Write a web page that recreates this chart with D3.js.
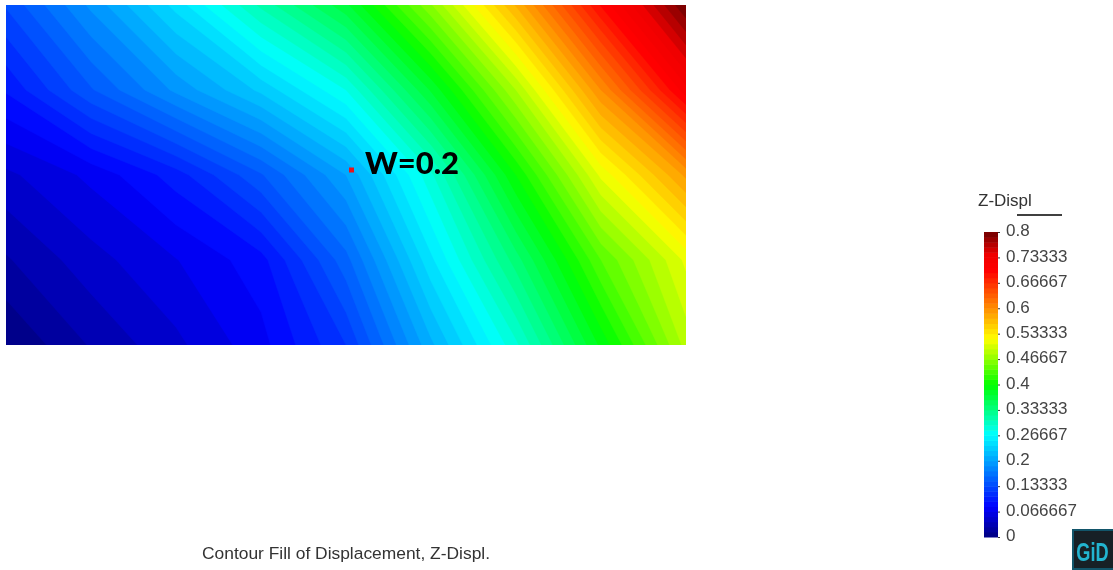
<!DOCTYPE html>
<html><head><meta charset="utf-8">
<script src="https://cdn.jsdelivr.net/npm/d3@7/dist/d3.min.js"></script>
<style>html,body{margin:0;padding:0;background:#fff}svg{display:block;filter:blur(0.5px)}</style>
</head><body><div id="c"></div>
<script>
// Node positions along the plate (fraction of width / height)
const colPos = [0,1,2,3,4,5,6,7,8];
const rowPos = [0,1,2,3,4];
// Z-displacement read at nodes, rows from top to bottom
const row0 = [.135,.19,.245,.31,.37,.465,.575,.695,.80];
const row1 = [.095,.145,.19,.23,.28,.375,.48,.60,.715];
const row2 = [.05,.07,.10,.145,.20,.29,.40,.51,.59];
const row3 = [.025,.048,.066,.088,.155,.25,.34,.44,.51];
const row4 = [0,.028,.05,.075,.12,.21,.29,.39,.485];
const legendTicks = [0,.066667,.13333,.2,.26667,.33333,.4,.46667,.53333,.6,.66667,.73333,.8];
const colorValues = [0,.08,.27,.40,.52,.70,.74,.8];
const colorStops = ["#00007f","#0000ff","#00ffff","#00ff00","#ffff00","#ff0000","#f00000","#6f0000"];
const bandCount = 60;
const titleText = "Contour Fill of Displacement, Z-Displ.";
const legendTitle = "Z-Displ";
const noteText = "W=0.2";
const markerNode = {col:4,row:2};

const W=1113,H=570;
const svg=d3.select("#c").append("svg").attr("width",W).attr("height",H);
const color=d3.scaleLinear().domain(colorValues).range(colorStops);
const x=d3.scaleLinear().domain([0,8]).range([6,686]);
const y=d3.scaleLinear().domain([0,4]).range([5,345]);

const rows=[row0,row1,row2,row3,row4];
const grid=rows.flat();
const step=.8/bandCount;
const thresholds=d3.range(bandCount).map(i=>i*step);
const contours=d3.contours().size([colPos.length,rowPos.length]).smooth(true).thresholds(thresholds)(grid);
// d3.contours places node i at i+0.5
const proj=d3.geoTransform({point(px,py){this.stream.point(x(px-.5),y(py-.5));}});
const path=d3.geoPath(proj);
svg.append("clipPath").attr("id","plate").append("rect")
  .attr("x",x(0)).attr("y",y(0)).attr("width",x(8)-x(0)).attr("height",y(4)-y(0));
svg.append("g").attr("clip-path","url(#plate)").selectAll("path").data(contours).join("path")
  .attr("d",path).attr("fill",d=>color(d.value+step/2)).attr("stroke",d=>color(d.value+step/2)).attr("stroke-width",.4);

// marker and note
svg.append("rect").attr("x",x(markerNode.col)+3).attr("y",y(markerNode.row)-7.5).attr("width",5).attr("height",5).attr("fill","#e8141c");
svg.append("text").attr("x",365).attr("y",174).attr("font-family","Lato, sans-serif").attr("font-weight",900).attr("font-size",31).attr("fill","#000").text(noteText);

// legend
const ly=d3.scaleLinear().domain([0,.8]).range([537,232]);
const lg=svg.append("g");
lg.selectAll("rect").data(thresholds).join("rect")
  .attr("x",984).attr("width",14).attr("y",d=>ly(d+step)).attr("height",d=>ly(d)-ly(d+step)+.5)
  .attr("fill",d=>color(d+step/2));
const fmt=d=>String(d);
const ax=svg.append("g").attr("transform","translate(998,0)")
  .call(d3.axisRight(ly).tickValues(legendTicks).tickSize(2).tickPadding(6).tickFormat(fmt));
ax.select(".domain").remove();
ax.selectAll("line").attr("stroke","#333");
ax.selectAll("text").attr("font-family","'Liberation Sans',Arial,sans-serif").attr("font-size",17).attr("fill","#444").attr("dy","0.22em");
svg.append("text").attr("x",978).attr("y",206).attr("font-family","'Liberation Sans',Arial,sans-serif").attr("font-size",17).attr("fill","#333").text(legendTitle);
svg.append("line").attr("x1",1017).attr("x2",1062).attr("y1",215).attr("y2",215).attr("stroke","#000").attr("stroke-width",1.5);

// title
svg.append("text").attr("x",202).attr("y",559).attr("font-family","'Liberation Sans',Arial,sans-serif").attr("font-size",17.4).attr("fill","#333").text(titleText);

// badge
const b=svg.append("g");
b.append("rect").attr("x",1072).attr("y",529).attr("width",41).attr("height",41).attr("fill","#12556a");
b.append("rect").attr("x",1074).attr("y",531).attr("width",39).attr("height",37).attr("fill","#172026");
b.append("text").attr("transform","translate(1092.5,561) scale(0.7,1)").attr("text-anchor","middle").attr("font-family","'Liberation Sans',Arial,sans-serif").attr("font-weight",700).attr("font-size",26).attr("fill","#22b4d0").text("GiD");
</script></body></html>
